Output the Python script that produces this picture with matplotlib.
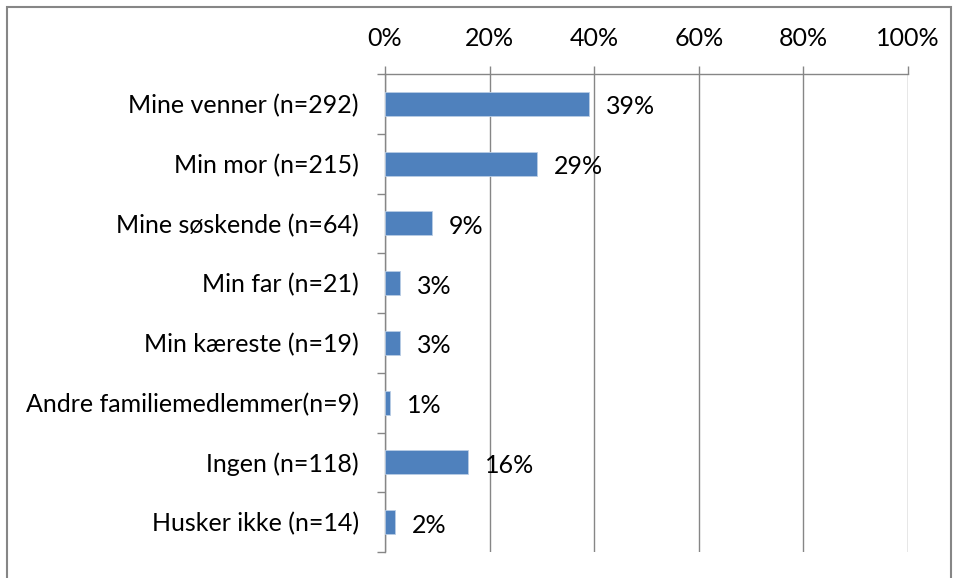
import numpy as np
import matplotlib.pyplot as plt
from matplotlib.patches import Rectangle

categories = ["Mine venner (n=292)", "Min mor (n=215)", "Mine søskende (n=64)",
              "Min far (n=21)", "Min kæreste (n=19)", "Andre familiemedlemmer(n=9)",
              "Ingen (n=118)", "Husker ikke (n=14)"]
values = [39.0, 29.0, 8.9, 2.9, 2.9, 0.9, 15.9, 1.9]
labels = ["39%", "29%", "9%", "3%", "3%", "1%", "16%", "2%"]
xticks = [0, 20, 40, 60, 80, 100]

plt.rcParams['font.family'] = ['Lato', 'DejaVu Sans']
fs = 18

W, H = 955, 578
fig = plt.figure(figsize=(W / 100, H / 100), dpi=100)
ax = fig.add_axes([385 / W, 1 - 552 / H, (908 - 385) / W, (552 - 74) / H])

grid_col = "#868686"
y = np.arange(len(categories))
ax.barh(y, values, height=0.4, color="#4F81BD", edgecolor="#B9CDE5", linewidth=0.6, zorder=3)
for yi, v, lab in zip(y, values, labels):
    ax.annotate(lab, (v, yi), xytext=(17, -3), textcoords="offset pixels",
                va="center", ha="left", fontsize=fs, color="black")

ax.set_xlim(0, 100)
ax.set_ylim(len(categories) - 0.5, -0.5)
ax.set_xticks(xticks)
ax.set_xticklabels([f"{t}%" for t in xticks], fontsize=fs)
ax.xaxis.tick_top()
ax.set_yticks(y)
ax.set_yticklabels(categories, fontsize=fs)
ax.set_yticks(np.arange(len(categories) + 1) - 0.5, minor=True)
ax.tick_params(axis="y", which="major", length=0, pad=26 * 0.72)
ax.tick_params(axis="y", which="minor", length=8 * 0.72, color=grid_col, width=1)
ax.tick_params(axis="x", length=8 * 0.72, color=grid_col, width=1, pad=16 * 0.72)
ax.grid(axis="x", color=grid_col, linewidth=1, zorder=0)

for s in ["right", "bottom"]:
    ax.spines[s].set_visible(False)
for s in ["left", "top"]:
    ax.spines[s].set_color(grid_col)
    ax.spines[s].set_linewidth(1)

# outer chart frame
fig.patches.append(Rectangle((7 / W, -0.05), (951 - 7) / W, 1.05 - 7 / H,
                             transform=fig.transFigure, fill=False,
                             edgecolor="#868686", linewidth=1.5))

fig.savefig("out.png", dpi=100)
